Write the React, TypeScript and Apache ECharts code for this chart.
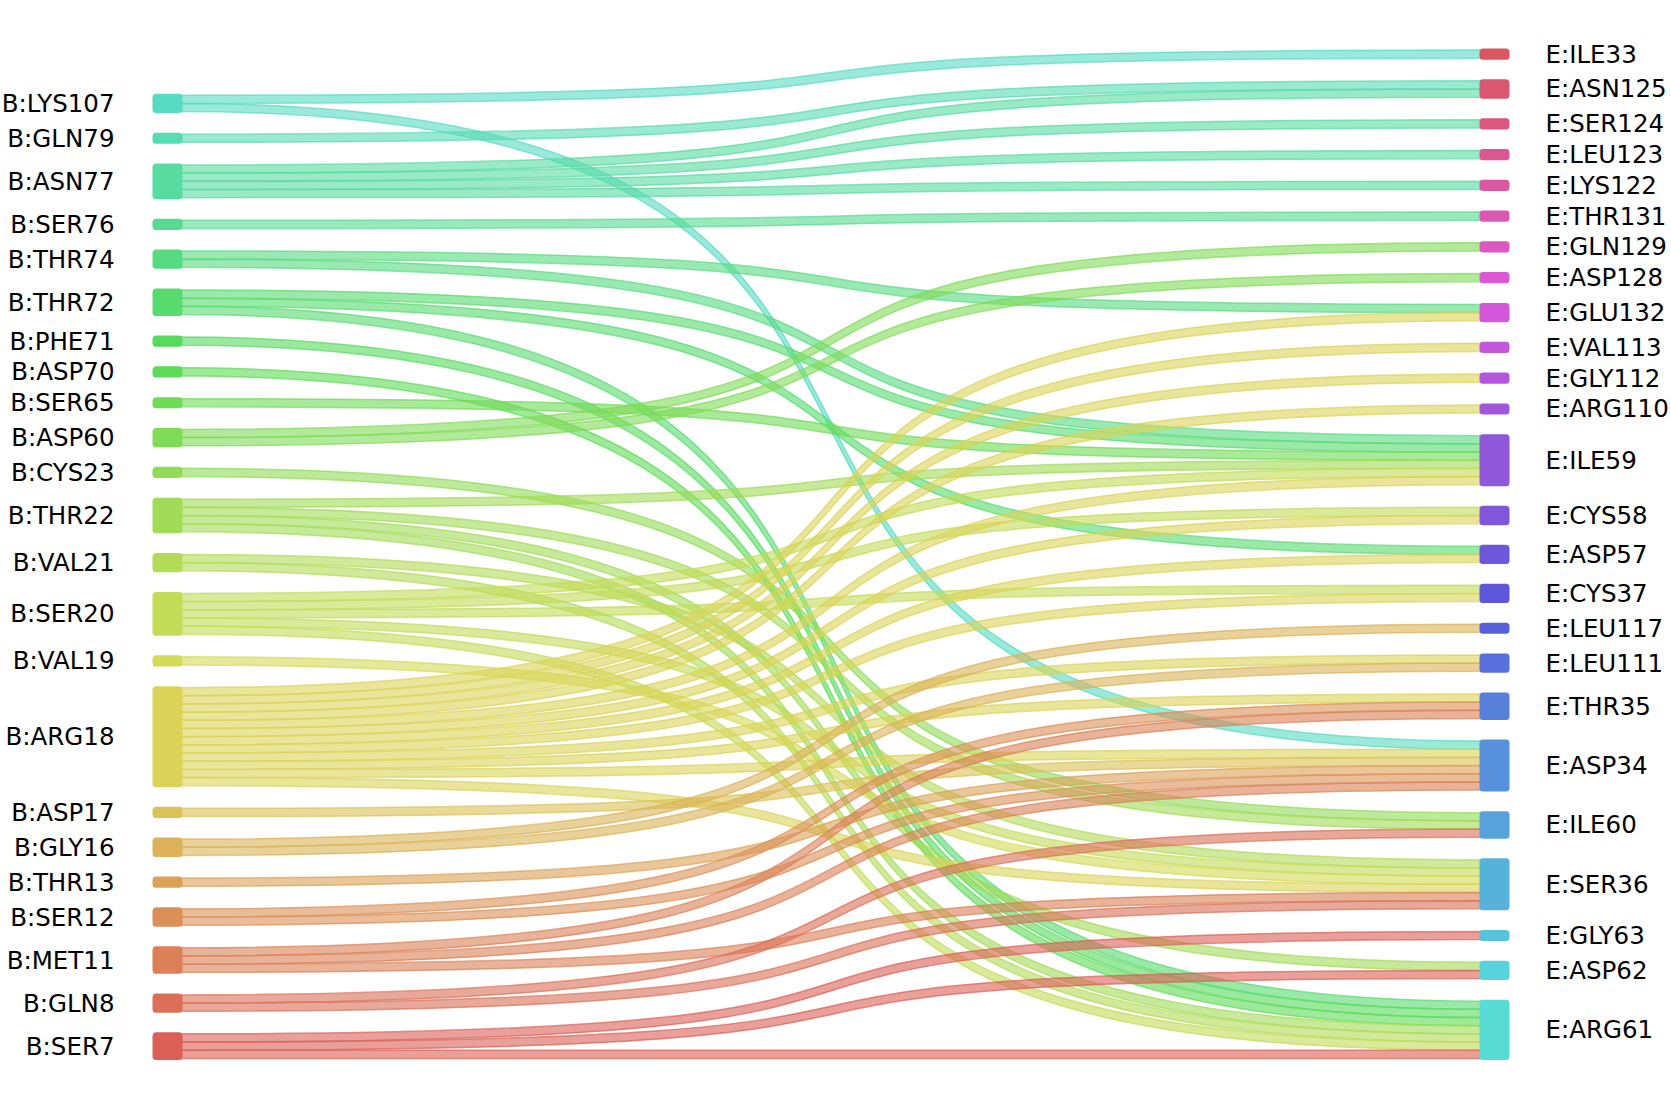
import React, { useEffect, useRef } from "react";
import * as echarts from "echarts";

// Left column (top to bottom)
const leftNodes = [
  "B:LYS107", "B:GLN79", "B:ASN77", "B:SER76", "B:THR74", "B:THR72", "B:PHE71",
  "B:ASP70", "B:SER65", "B:ASP60", "B:CYS23", "B:THR22", "B:VAL21", "B:SER20",
  "B:VAL19", "B:ARG18", "B:ASP17", "B:GLY16", "B:THR13", "B:SER12", "B:MET11",
  "B:GLN8", "B:SER7",
];

// Right column (top to bottom)
const rightNodes = [
  "E:ILE33", "E:ASN125", "E:SER124", "E:LEU123", "E:LYS122", "E:THR131", "E:GLN129",
  "E:ASP128", "E:GLU132", "E:VAL113", "E:GLY112", "E:ARG110", "E:ILE59", "E:CYS58",
  "E:ASP57", "E:CYS37", "E:LEU117", "E:LEU111", "E:THR35", "E:ASP34", "E:ILE60",
  "E:SER36", "E:GLY63", "E:ASP62", "E:ARG61",
];

// One strand per contact
const linkSources = [
  "B:LYS107", "B:LYS107",
  "B:GLN79",
  "B:ASN77", "B:ASN77", "B:ASN77", "B:ASN77",
  "B:SER76",
  "B:THR74", "B:THR74",
  "B:THR72", "B:THR72", "B:THR72",
  "B:PHE71",
  "B:ASP70",
  "B:SER65",
  "B:ASP60", "B:ASP60",
  "B:CYS23",
  "B:THR22", "B:THR22", "B:THR22", "B:THR22",
  "B:VAL21", "B:VAL21",
  "B:SER20", "B:SER20", "B:SER20", "B:SER20", "B:SER20",
  "B:VAL19",
  "B:ARG18", "B:ARG18", "B:ARG18", "B:ARG18", "B:ARG18", "B:ARG18",
  "B:ARG18", "B:ARG18", "B:ARG18", "B:ARG18", "B:ARG18", "B:ARG18",
  "B:ASP17",
  "B:GLY16", "B:GLY16",
  "B:THR13",
  "B:SER12", "B:SER12",
  "B:MET11", "B:MET11", "B:MET11",
  "B:GLN8", "B:GLN8",
  "B:SER7", "B:SER7", "B:SER7",
];
const linkTargets = [
  "E:ILE33", "E:ASP34",
  "E:ASN125",
  "E:ASN125", "E:SER124", "E:LEU123", "E:LYS122",
  "E:THR131",
  "E:GLU132", "E:ILE59",
  "E:ILE59", "E:ASP57", "E:ARG61",
  "E:ARG61",
  "E:ARG61",
  "E:ILE59",
  "E:GLN129", "E:ASP128",
  "E:ILE60",
  "E:ILE59", "E:ILE60", "E:ASP62", "E:ARG61",
  "E:SER36", "E:ARG61",
  "E:ILE59", "E:CYS58", "E:CYS37", "E:SER36", "E:ARG61",
  "E:SER36",
  "E:GLU132", "E:VAL113", "E:GLY112", "E:ARG110", "E:ILE59", "E:CYS58",
  "E:ASP57", "E:CYS37", "E:LEU111", "E:THR35", "E:ASP34", "E:SER36",
  "E:ASP34",
  "E:LEU117", "E:LEU111",
  "E:ASP34",
  "E:THR35", "E:ASP34",
  "E:THR35", "E:ASP34", "E:SER36",
  "E:ILE60", "E:SER36",
  "E:GLY63", "E:ASP62", "E:ARG61",
];
const linkValues = linkSources.map(() => 1);

function hlsToRgb(h: number, l: number, s: number): number[] {
  const m2 = l <= 0.5 ? l * (1 + s) : l + s - l * s;
  const m1 = 2 * l - m2;
  const v = (hue: number) => {
    hue = ((hue % 1) + 1) % 1;
    if (hue < 1 / 6) return m1 + (m2 - m1) * hue * 6;
    if (hue < 0.5) return m2;
    if (hue < 2 / 3) return m1 + (m2 - m1) * (2 / 3 - hue) * 6;
    return m1;
  };
  return [v(h + 1 / 3), v(h), v(h - 1 / 3)].map((x) => Math.round(x * 255));
}

export default function App() {
  const ref = useRef<HTMLDivElement>(null);
  useEffect(() => {
    if (!ref.current) return;
    const chart = echarts.init(ref.current, null, { renderer: "svg" });
    const total = leftNodes.length + rightNodes.length;
    const colorOf: Record<string, number[]> = {};
    leftNodes.forEach((n, p) => {
      const idx = leftNodes.length - 1 - p;
      colorOf[n] = hlsToRgb((idx / total + 0.01) % 1, 0.6, 0.65);
    });
    rightNodes.forEach((n, q) => {
      const idx = leftNodes.length + (rightNodes.length - 1 - q);
      colorOf[n] = hlsToRgb((idx / total + 0.01) % 1, 0.6, 0.65);
    });
    const rgb = (c: number[]) => `rgb(${c[0]},${c[1]},${c[2]})`;
    const rgba = (c: number[], a: number) => `rgba(${c[0]},${c[1]},${c[2]},${a})`;

    // two empty spacers keep the shorter left column bottom-aligned
    const pads = ["__pad1", "__pad2"].map((name) => ({
      name,
      depth: 0,
      value: 0,
      silent: true,
      itemStyle: { color: "transparent", borderWidth: 0 },
      label: { show: false },
    }));
    const nodes = [
      ...pads,
      ...leftNodes.map((name) => ({
        name,
        depth: 0,
        itemStyle: { color: rgb(colorOf[name]), borderColor: rgb(colorOf[name]), borderWidth: 3, borderRadius: 2 },
        label: { position: "left", distance: 38 },
      })),
      ...rightNodes.map((name) => ({
        name,
        depth: 1,
        itemStyle: { color: rgb(colorOf[name]), borderColor: rgb(colorOf[name]), borderWidth: 3, borderRadius: 2 },
        label: { position: "right", distance: 36 },
      })),
    ];
    const links = linkSources.map((s, i) => ({
      source: s,
      target: linkTargets[i],
      value: linkValues[i],
      lineStyle: {
        color: rgba(colorOf[s], 0.6),
        borderColor: rgba(colorOf[s], 0.7),
        borderWidth: 1.5,
        opacity: 1,
        curveness: 0.75,
      },
    }));

    chart.setOption({
      animation: false,
      backgroundColor: "#ffffff",
      series: [
        {
          type: "sankey",
          left: 154,
          right: 163,
          top: 50,
          bottom: 49.6,
          nodeWidth: 27,
          nodeGap: 22.6,
          layoutIterations: 0,
          nodeAlign: "left",
          draggable: false,
          emphasis: { disabled: true },
          label: {
            fontFamily: "DejaVu Sans",
            fontSize: 24.5,
            color: "#000000",
          },
          lineStyle: { opacity: 1, curveness: 0.75 },
          data: nodes,
          links,
        },
      ],
    });
    return () => chart.dispose();
  }, []);
  return (
    <div
      ref={ref}
      style={{ position: "absolute", left: 0, top: 0, width: 1671, height: 1108, background: "#fff" }}
    />
  );
}
